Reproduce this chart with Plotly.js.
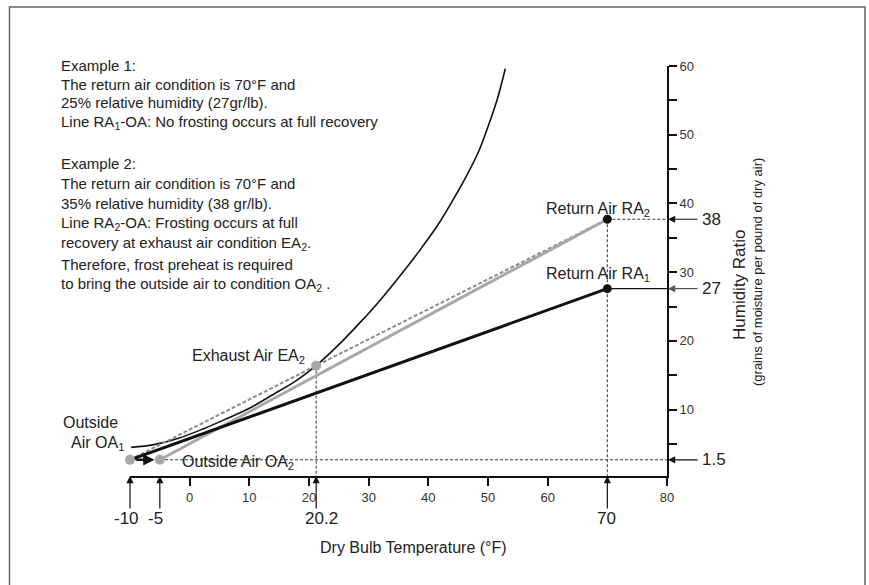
<!DOCTYPE html>
<html>
<head>
<meta charset="utf-8">
<script src="https://cdn.plot.ly/plotly-3.0.1.min.js"></script>
<style>html,body{margin:0;padding:0;background:#fff;}#chart{width:869px;height:585px;}</style>
</head>
<body>
<div id="chart"></div>
<script>
// ---- data ----
const curveX = [-9.8, -6, -2, 2, 6, 10, 14, 18, 21.2, 25.5, 28.7, 32, 35.2, 38.5, 41.7, 44, 46.4, 48.5, 50.1, 51.6, 52.9];
const curveY = [4.5, 4.9, 5.8, 7.1, 8.6, 10.2, 12.2, 14.3, 16.4, 19.9, 22.8, 26.0, 29.4, 33.1, 37.0, 40.3, 44.0, 47.7, 51.4, 55.3, 59.6];

const oa1 = [-10, 2.7];
const oa2 = [-5, 2.7];
const ea2 = [21.2, 16.4];
const ra1 = [70, 27.6];
const ra2 = [70, 37.7];

const xTickVals = [0, 10, 20, 30, 40, 50, 60, 80];
const yTickVals = [5, 10, 15, 20, 25, 30, 35, 40, 45, 50, 55, 60];
const yTickText = ['', '10', '', '20', '', '30', '', '40', '', '50', '', '60'];

const bottomArrowX = [oa1[0], oa2[0], ea2[0], ra1[0]];
const bottomArrowText = ['-10', '-5', '20.2', '70'];
const rightArrowY = [ra2[1], ra1[1], oa1[1]];
const rightArrowText = ['38', '27', '1.5'];

const example1 = [
  'Example 1:',
  'The return air condition is 70°F and',
  '25% relative humidity (27gr/lb).',
  'Line RA<sub>1</sub>-OA: No frosting occurs at full recovery'
];
const example2 = [
  'Example 2:',
  'The return air condition is 70°F and',
  '35% relative humidity (38 gr/lb).',
  'Line RA<sub>2</sub>-OA: Frosting occurs at full',
  'recovery at exhaust air condition EA<sub>2</sub>.',
  'Therefore, frost preheat is required',
  'to bring the outside air to condition OA<sub>2</sub> .'
];

// ---- layout helpers ----
const W = 869, H = 585;
const M = {l: 130, r: 202, t: 66, b: 109};
const PW = W - M.l - M.r, PH = H - M.t - M.b;
const px = x => (x - M.l) / PW;
const py = y => (H - M.b - y) / PH;
const FONT = 'Liberation Sans, Arial, Helvetica, sans-serif';
const TXT = '#222';

const traces = [
  // dashed guide lines
  {x: [oa1[0], 80], y: [oa1[1], oa1[1]], mode: 'lines', line: {color: '#333', width: 1, dash: '3px,2px'}},
  {x: [ea2[0], ea2[0]], y: [ea2[1], 0.34], mode: 'lines', line: {color: '#333', width: 1, dash: '3px,2px'}},
  {x: [ra2[0], ra2[0]], y: [ra2[1], 0.34], mode: 'lines', line: {color: '#333', width: 1, dash: '3px,2px'}},
  {x: [ra2[0], 80], y: [ra2[1], ra2[1]], mode: 'lines', line: {color: '#333', width: 1, dash: '3px,2px'}},
  {x: [ra1[0], 80], y: [ra1[1], ra1[1]], mode: 'lines', line: {color: '#111', width: 1.2}},
  // frost curve
  {x: curveX, y: curveY, mode: 'lines', line: {color: '#111', width: 1.6, shape: 'spline'}},
  // dashed OA1 -> RA2 (through EA2)
  {x: [oa1[0], ea2[0], ra2[0]], y: [oa1[1], ea2[1], ra2[1]], mode: 'lines', line: {color: '#8f8f8f', width: 2, dash: '4px,2px'}},
  // OA2 -> RA2 gray
  {x: [oa2[0], ra2[0]], y: [oa2[1], ra2[1]], mode: 'lines', line: {color: '#a8a8a8', width: 3}},
  // OA1 -> RA1 black
  {x: [oa1[0], ra1[0]], y: [oa1[1], ra1[1]], mode: 'lines', line: {color: '#111', width: 3}},
  // markers
  {x: [oa1[0], oa2[0], ea2[0]], y: [oa1[1], oa2[1], ea2[1]], mode: 'markers', marker: {color: '#a8a8a8', size: 10}, cliponaxis: false},
  {x: [ra1[0], ra2[0]], y: [ra1[1], ra2[1]], mode: 'markers', marker: {color: '#111', size: 9}, cliponaxis: false}
];

const ann = [];
example1.forEach((t, i) => ann.push({xref: 'paper', yref: 'paper', x: px(59), y: py(65 + 19 * i), text: t, showarrow: false, xanchor: 'left', yanchor: 'middle', font: {family: FONT, size: 15, color: TXT}}));
example2.forEach((t, i) => ann.push({xref: 'paper', yref: 'paper', x: px(59), y: py(163 + 20.2 * i), text: t, showarrow: false, xanchor: 'left', yanchor: 'middle', font: {family: FONT, size: 15, color: TXT}}));

// point labels
const lab = (x, y, t, xa) => ({xref: 'paper', yref: 'paper', x: px(x), y: py(y), text: t, showarrow: false, xanchor: xa || 'right', yanchor: 'middle', font: {family: FONT, size: 16, color: TXT}});
ann.push(lab(652, 209, 'Return Air RA<sub>2</sub>'));
ann.push(lab(652, 274, 'Return Air RA<sub>1</sub>'));
ann.push(lab(307, 356, 'Exhaust Air EA<sub>2</sub>'));
ann.push(lab(120, 422, 'Outside'));
ann.push(lab(126, 443, 'Air OA<sub>1</sub>'));
ann.push(lab(180, 462, 'Outside Air OA<sub>2</sub>', 'left'));

// OA1 -> OA2 arrow
ann.push({x: oa2[0] - 0.9, y: oa2[1], ax: oa1[0] + 0.8, ay: oa1[1], axref: 'x', ayref: 'y', text: '', showarrow: true, arrowhead: 2, arrowsize: 0.9, arrowwidth: 2.5, arrowcolor: '#111', standoff: 0});

// bottom arrows
bottomArrowX.forEach((x, i) => {
  ann.push({x: x, y: 0.34, ax: 0, ay: 34, text: '', showarrow: true, arrowhead: 2, arrowsize: 1.2, arrowwidth: 1.2, arrowcolor: '#111', standoff: 0});
});
const bottomTextPx = [126, 155, 321, 606];
bottomArrowText.forEach((t, i) => ann.push({xref: 'paper', yref: 'paper', x: px(bottomTextPx[i]), y: py(518), text: t, showarrow: false, xanchor: 'center', yanchor: 'middle', font: {family: FONT, size: 17, color: TXT}}));

// right arrows
rightArrowY.forEach((y, i) => {
  ann.push({x: 80, y: y, ax: 32, ay: 0, text: '', showarrow: true, arrowhead: 2, arrowsize: 1.2, arrowwidth: 1.2, arrowcolor: i === 1 ? '#555' : '#111', standoff: 1});
  ann.push({x: 80, y: y, xshift: 33, text: rightArrowText[i], showarrow: false, xanchor: 'left', yanchor: 'middle', font: {family: FONT, size: 17, color: TXT}});
});

// axis titles
ann.push({xref: 'paper', yref: 'paper', x: px(413), y: py(547), text: 'Dry Bulb Temperature (°F)', showarrow: false, xanchor: 'center', yanchor: 'middle', font: {family: FONT, size: 16, color: TXT}});
ann.push({xref: 'paper', yref: 'paper', x: px(739), y: py(285), text: 'Humidity Ratio', textangle: -90, showarrow: false, xanchor: 'center', yanchor: 'middle', font: {family: FONT, size: 17, color: TXT}});
ann.push({xref: 'paper', yref: 'paper', x: px(757), y: py(272), text: '(grains of moisture per pound of dry air)', textangle: -90, showarrow: false, xanchor: 'center', yanchor: 'middle', font: {family: FONT, size: 13, color: TXT}});

const layout = {
  width: W, height: H,
  margin: M,
  paper_bgcolor: '#fff', plot_bgcolor: 'rgba(0,0,0,0)',
  showlegend: false,
  font: {family: FONT, color: TXT},
  xaxis: {range: [-10, 80], showgrid: false, zeroline: false, showline: true, linecolor: '#111', linewidth: 2,
          ticks: 'outside', tickvals: xTickVals, ticklen: 8, tickwidth: 2, tickcolor: '#111',
          tickfont: {family: FONT, size: 13, color: '#333'}, fixedrange: true},
  yaxis: {range: [0.34, 60], side: 'right', showgrid: false, zeroline: false, showline: true, linecolor: '#111', linewidth: 2,
          ticks: 'outside', tickvals: yTickVals, ticktext: yTickText, ticklen: 8, tickwidth: 2, tickcolor: '#111',
          tickfont: {family: FONT, size: 13, color: '#333'}, fixedrange: true},
  shapes: [
    {type: 'line', xref: 'paper', yref: 'paper', x0: 1, x1: 1, y0: 0, y1: py(485), line: {color: '#111', width: 2}},
    {type: 'rect', xref: 'paper', yref: 'paper', x0: px(9.5), x1: px(865), y0: py(7), y1: py(600), line: {color: '#666', width: 1.5}}
  ],
  annotations: ann
};

Plotly.newPlot('chart', traces, layout, {displayModeBar: false, staticPlot: true});
</script>
</body>
</html>
